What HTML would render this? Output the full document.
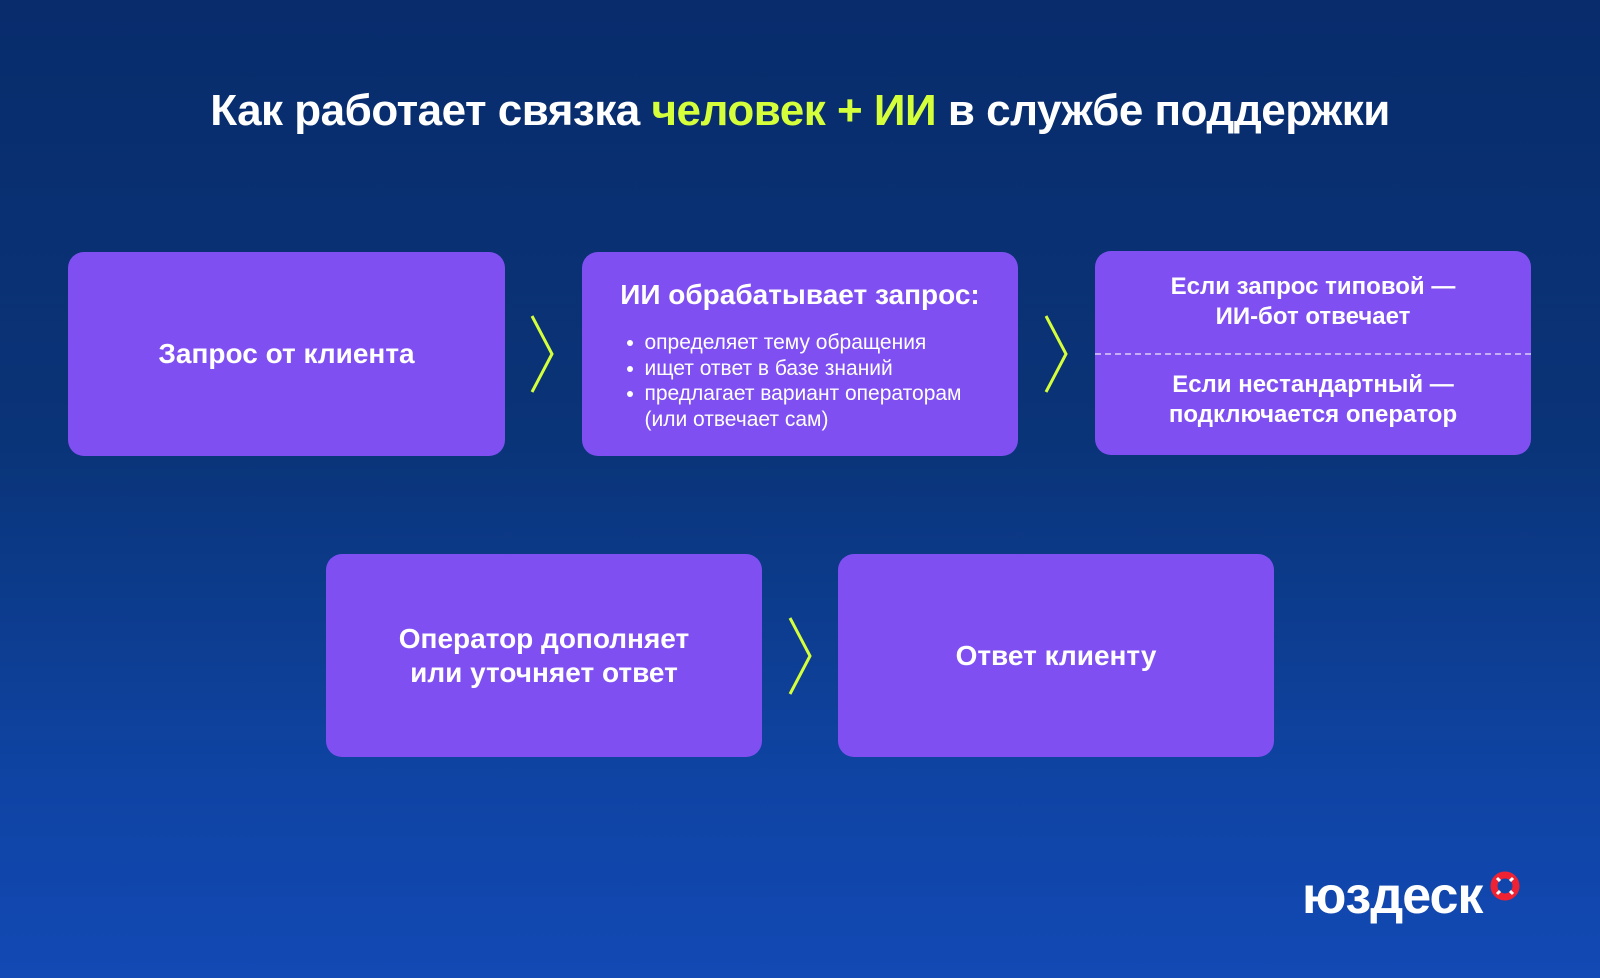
<!DOCTYPE html>
<html><head><meta charset="utf-8"><style>
*{margin:0;padding:0;box-sizing:border-box}
body{width:1600px;height:978px;overflow:hidden;position:relative;font-family:"Liberation Sans","DejaVu Sans",sans-serif;color:#fff;
background:linear-gradient(180deg,#082c6c 0%,#0a3478 45%,#0f44a4 80%,#1249b4 100%);}
.title{position:absolute;top:86px;left:0;width:1600px;text-align:center;font-size:44px;font-weight:bold;letter-spacing:-0.5px}
.title span{color:#d4ff3a}
.box{position:absolute;background:#7f4ff2;border-radius:16px;display:flex;align-items:center;justify-content:center;text-align:center;font-weight:bold;font-size:28px;line-height:34px}
.chev{position:absolute}
ul{list-style:none;text-align:left;font-weight:normal;font-size:21px;line-height:25.5px;margin-left:-14px}
ul li{position:relative;padding-left:20px}
ul li:before{content:"";position:absolute;left:2px;top:10px;width:6px;height:6px;border-radius:50%;background:#fff}
.logo{position:absolute;left:1302px;top:866px;font-size:52px;font-weight:bold;letter-spacing:-1px}
</style></head><body>
<div class="title">Как работает связка <span>человек + ИИ</span> в службе поддержки</div>

<div class="box" style="left:68px;top:252px;width:437px;height:204px">Запрос от клиента</div>
<div class="box" style="left:582px;top:252px;width:436px;height:204px;flex-direction:column;justify-content:flex-start;padding-top:26px">
<div style="font-size:28px;margin-bottom:18px">ИИ обрабатывает запрос:</div>
<ul><li>определяет тему обращения</li><li>ищет ответ в базе знаний</li><li>предлагает вариант операторам<br>(или отвечает сам)</li></ul></div>
<div class="box" style="left:1095px;top:251px;width:436px;height:204px;flex-direction:column;font-size:24px;line-height:30px">
<div style="position:absolute;top:21px;left:0;right:0">Если запрос типовой —<br>ИИ-бот отвечает</div>
<div style="position:absolute;top:102px;left:0;right:0;border-top:2px dashed rgba(255,255,255,0.55)"></div>
<div style="position:absolute;top:119px;left:0;right:0">Если нестандартный —<br>подключается оператор</div></div>

<div class="box" style="left:326px;top:554px;width:436px;height:203px">Оператор дополняет<br>или уточняет ответ</div>
<div class="box" style="left:838px;top:554px;width:436px;height:203px">Ответ клиенту</div>

<svg class="chev" style="left:528px;top:314px" width="30" height="80"><polyline points="4,2 24,40 4,78" fill="none" stroke="#d4ff3a" stroke-width="3"/></svg>
<svg class="chev" style="left:1042px;top:314px" width="30" height="80"><polyline points="4,2 24,40 4,78" fill="none" stroke="#d4ff3a" stroke-width="3"/></svg>
<svg class="chev" style="left:786px;top:616px" width="30" height="80"><polyline points="4,2 24,40 4,78" fill="none" stroke="#d4ff3a" stroke-width="3"/></svg>

<div class="logo">юздеск</div>
<svg style="position:absolute;left:1489px;top:870px" width="32" height="32"><circle cx="16" cy="16" r="11" fill="none" stroke="#ee2233" stroke-width="7"/><g stroke="#fff" stroke-width="3"><line x1="8" y1="8" x2="11" y2="11"/><line x1="24" y1="8" x2="21" y2="11"/><line x1="8" y1="24" x2="11" y2="21"/><line x1="24" y1="24" x2="21" y2="21"/></g></svg>
</body></html>
